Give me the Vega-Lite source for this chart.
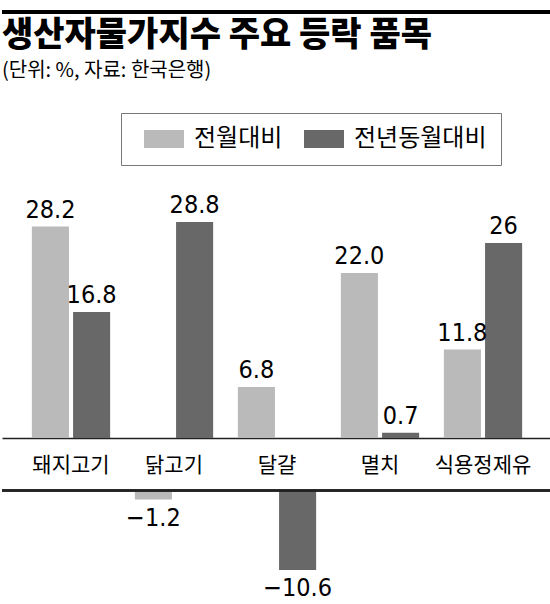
{
  "$schema": "https://vega.github.io/schema/vega-lite/v6.json",
  "padding": {"top": 10, "bottom": 0, "left": 0, "right": 0},
  "background": "white",
  "config": {
    "view": {"stroke": null},
    "axis": {"grid": false},
    "font": "Noto Sans CJK KR"
  },
  "spacing": 31,
  "resolve": {"legend": {"color": "independent"}},
  "vconcat": [
    {
      "width": 550,
      "height": 4,
      "title": {
        "text": "생산자물가지수 주요 등락 품목",
        "subtitle": "(단위: %, 자료: 한국은행)",
        "orient": "bottom",
        "anchor": "start",
        "frame": "group",
        "offset": 5,
        "font": "Noto Sans CJK KR",
        "fontSize": 34,
        "fontWeight": 900,
        "color": "#000000",
        "subtitleFont": "Noto Sans CJK KR",
        "subtitleFontSize": 20,
        "subtitleColor": "#000000",
        "subtitlePadding": 8
      },
      "data": {"values": [{"level": 0}]},
      "mark": {"type": "rule", "stroke": "#000000", "strokeWidth": 4, "clip": false},
      "encoding": {
        "y": {"field": "level", "type": "quantitative", "scale": {"domain": [-1, 1], "nice": false, "zero": false}, "axis": null}
      }
    },
    {
      "width": 550,
      "height": 255,
      "data": {
        "values": [
          {"item": "돼지고기", "series": "전월대비", "value": 28.2, "label": "28.2"},
          {"item": "돼지고기", "series": "전년동월대비", "value": 16.8, "label": "16.8"},
          {"item": "닭고기", "series": "전월대비", "value": -1.2, "label": "−1.2"},
          {"item": "닭고기", "series": "전년동월대비", "value": 28.8, "label": "28.8"},
          {"item": "달걀", "series": "전월대비", "value": 6.8, "label": "6.8"},
          {"item": "달걀", "series": "전년동월대비", "value": -10.6, "label": "−10.6"},
          {"item": "멸치", "series": "전월대비", "value": 22.0, "label": "22.0"},
          {"item": "멸치", "series": "전년동월대비", "value": 0.7, "label": "0.7"},
          {"item": "식용정제유", "series": "전월대비", "value": 11.8, "label": "11.8"},
          {"item": "식용정제유", "series": "전년동월대비", "value": 26, "label": "26"}
        ]
      },
      "resolve": {"scale": {"y": "independent"}},
      "layer": [
        {
          "transform": [{"filter": "datum.value >= 0"}],
          "mark": {"type": "bar"},
          "encoding": {
            "x": {"field": "item", "type": "nominal", "sort": ["돼지고기", "닭고기", "달걀", "멸치", "식용정제유"],
              "scale": {"domain": ["돼지고기", "닭고기", "달걀", "멸치", "식용정제유"], "paddingInner": 0.24, "paddingOuter": 0.29},
              "axis": {"title": null, "orient": "bottom", "labelAngle": 0, "ticks": false, "domain": true, "domainColor": "#222222", "domainWidth": 1.5,
                "labelFont": "Noto Sans CJK KR", "labelFontSize": 21, "labelColor": "#000000", "labelPadding": 16}},
            "xOffset": {"field": "series", "type": "nominal", "scale": {"domain": ["전월대비", "전년동월대비"], "paddingInner": 0.1, "paddingOuter": 0}},
            "y": {"field": "value", "type": "quantitative", "scale": {"domain": [0, 34], "nice": false, "zero": false}, "axis": null},
            "y2": {"datum": 0},
            "color": {"field": "series", "type": "nominal",
              "scale": {"domain": ["전월대비", "전년동월대비"], "range": ["#bababa", "#686868"]},
              "legend": {"orient": "none", "legendX": 119, "legendY": -70, "direction": "horizontal", "title": null,
                "symbolType": "M-0.273,-0.818H3.364V0.818H-0.273Z", "symbolSize": 484, "symbolStrokeWidth": 0, "symbolOpacity": 1,
                "labelFont": "Noto Sans CJK KR", "labelFontSize": 24, "labelColor": "#000000", "labelOffset": 35,
                "columnPadding": 12, "padding": 14, "strokeColor": "#777777"}}
          }
        },
        {
          "transform": [{"filter": "datum.value >= 0"}],
          "mark": {"type": "text", "baseline": "alphabetic", "dy": -9, "font": "DejaVu Sans Condensed, Liberation Sans, sans-serif", "fontSize": 25, "color": "#000000"},
          "encoding": {
            "x": {"field": "item", "type": "nominal", "sort": ["돼지고기", "닭고기", "달걀", "멸치", "식용정제유"],
              "scale": {"domain": ["돼지고기", "닭고기", "달걀", "멸치", "식용정제유"], "paddingInner": 0.24, "paddingOuter": 0.29},
              "axis": {"title": null, "orient": "bottom", "labelAngle": 0, "ticks": false, "domain": true, "domainColor": "#222222", "domainWidth": 1.5,
                "labelFont": "Noto Sans CJK KR", "labelFontSize": 21, "labelColor": "#000000", "labelPadding": 16}},
            "xOffset": {"field": "series", "type": "nominal", "scale": {"domain": ["전월대비", "전년동월대비"], "paddingInner": 0.1, "paddingOuter": 0}},
            "y": {"field": "value", "type": "quantitative", "scale": {"domain": [0, 34], "nice": false, "zero": false}, "axis": null},
            "text": {"field": "label"}
          }
        },
        {
          "transform": [{"filter": "datum.value < 0"}],
          "mark": {"type": "bar", "clip": false},
          "encoding": {
            "x": {"field": "item", "type": "nominal", "sort": ["돼지고기", "닭고기", "달걀", "멸치", "식용정제유"],
              "scale": {"domain": ["돼지고기", "닭고기", "달걀", "멸치", "식용정제유"], "paddingInner": 0.24, "paddingOuter": 0.29},
              "axis": {"title": null, "orient": "bottom", "labelAngle": 0, "ticks": false, "domain": true, "domainColor": "#222222", "domainWidth": 1.5,
                "labelFont": "Noto Sans CJK KR", "labelFontSize": 21, "labelColor": "#000000", "labelPadding": 16}},
            "xOffset": {"field": "series", "type": "nominal", "scale": {"domain": ["전월대비", "전년동월대비"], "paddingInner": 0.1, "paddingOuter": 0}},
            "y": {"field": "value", "type": "quantitative", "scale": {"domain": [7, 41], "nice": false, "zero": false}, "axis": null},
            "y2": {"datum": 0},
            "color": {"field": "series", "type": "nominal",
              "scale": {"domain": ["전월대비", "전년동월대비"], "range": ["#bababa", "#686868"]},
              "legend": {"orient": "none", "legendX": 119, "legendY": -70, "direction": "horizontal", "title": null,
                "symbolType": "M-0.273,-0.818H3.364V0.818H-0.273Z", "symbolSize": 484, "symbolStrokeWidth": 0, "symbolOpacity": 1,
                "labelFont": "Noto Sans CJK KR", "labelFontSize": 24, "labelColor": "#000000", "labelOffset": 35,
                "columnPadding": 12, "padding": 14, "strokeColor": "#777777"}}
          }
        },
        {
          "transform": [{"filter": "datum.value < 0"}],
          "mark": {"type": "text", "baseline": "alphabetic", "dy": 26, "font": "DejaVu Sans Condensed, Liberation Sans, sans-serif", "fontSize": 25, "color": "#000000"},
          "encoding": {
            "x": {"field": "item", "type": "nominal", "sort": ["돼지고기", "닭고기", "달걀", "멸치", "식용정제유"],
              "scale": {"domain": ["돼지고기", "닭고기", "달걀", "멸치", "식용정제유"], "paddingInner": 0.24, "paddingOuter": 0.29},
              "axis": {"title": null, "orient": "bottom", "labelAngle": 0, "ticks": false, "domain": true, "domainColor": "#222222", "domainWidth": 1.5,
                "labelFont": "Noto Sans CJK KR", "labelFontSize": 21, "labelColor": "#000000", "labelPadding": 16}},
            "xOffset": {"field": "series", "type": "nominal", "scale": {"domain": ["전월대비", "전년동월대비"], "paddingInner": 0.1, "paddingOuter": 0}},
            "y": {"field": "value", "type": "quantitative", "scale": {"domain": [7, 41], "nice": false, "zero": false}, "axis": null},
            "text": {"field": "label"}
          }
        },
        {
          "mark": {"type": "rule", "stroke": "#222222", "strokeWidth": 1.5, "clip": false},
          "encoding": {
            "y": {"datum": 0, "type": "quantitative", "scale": {"domain": [7, 41], "nice": false, "zero": false}, "axis": null}
          }
        }
      ]
    }
  ]
}
